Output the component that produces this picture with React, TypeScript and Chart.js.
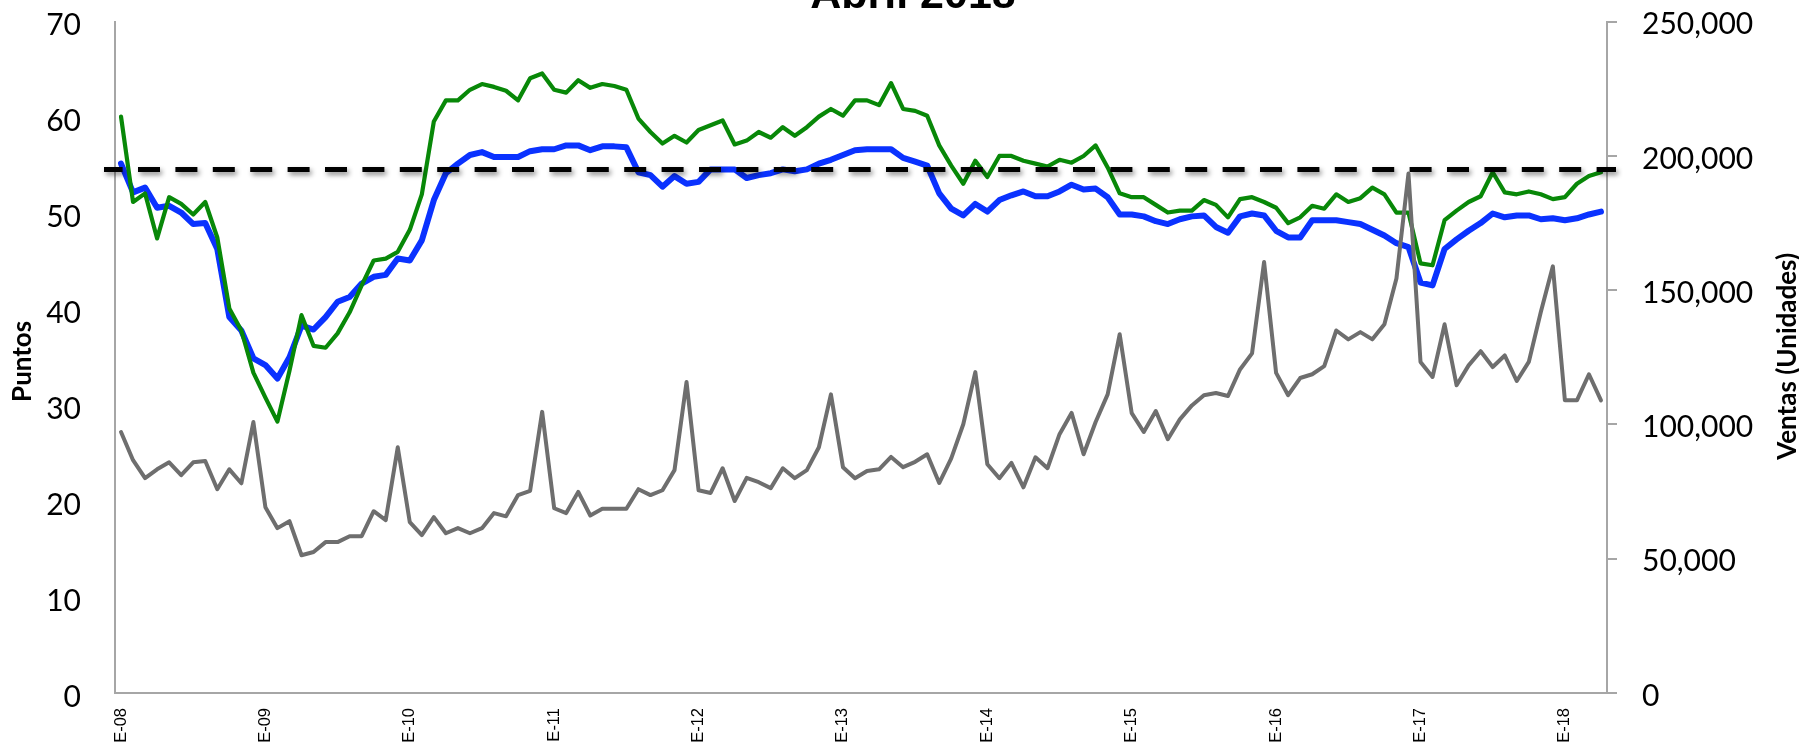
import React, { useEffect, useRef } from 'react';
import { Chart, registerables } from 'chart.js';

Chart.register(...registerables);

// ---------- data ----------
const MONTH_LETTERS = ['E', 'F', 'M', 'A', 'M', 'J', 'J', 'A', 'S', 'O', 'N', 'D'];
const YEARS = ['08', '09', '10', '11', '12', '13', '14', '15', '16', '17', '18'];
const N_POINTS = 124; // E-08 .. A-18
const categories: string[] = [];
for (const y of YEARS) for (const m of MONTH_LETTERS) categories.push(`${m}-${y}`);
categories.length = N_POINTS;

const TITLE = 'Abril 2018';
const LEFT_TITLE = 'Puntos';
const RIGHT_TITLE = 'Ventas (Unidades)';

const THRESHOLD = 54.6;

const LEFT_TICKS = [0, 10, 20, 30, 40, 50, 60, 70];
const RIGHT_TICKS = [0, 50000, 100000, 150000, 200000, 250000];

const blueSeries = [
  55.2, 52.2, 52.7, 50.6, 50.8, 50.1, 48.9, 49.0, 46.3, 39.2,
  37.8, 34.9, 34.2, 32.8, 35.0, 38.3, 37.9, 39.2, 40.8, 41.3,
  42.7, 43.4, 43.6, 45.3, 45.1, 47.2, 51.4, 54.2, 55.2, 56.1,
  56.4, 55.9, 55.9, 55.9, 56.5, 56.7, 56.7, 57.1, 57.1, 56.6,
  57.0, 57.0, 56.9, 54.3, 54.0, 52.8, 53.9, 53.1, 53.3, 54.6,
  54.6, 54.6, 53.7, 54.0, 54.2, 54.6, 54.4, 54.6, 55.2, 55.6,
  56.1, 56.6, 56.7, 56.7, 56.7, 55.8, 55.4, 55.0, 52.1, 50.5,
  49.8, 51.0, 50.2, 51.4, 51.9, 52.3, 51.8, 51.8, 52.3, 53.0,
  52.5, 52.6, 51.7, 49.9, 49.9, 49.7, 49.2, 48.9, 49.4, 49.7,
  49.8, 48.6, 48.0, 49.7, 50.0, 49.8, 48.2, 47.5, 47.5, 49.3,
  49.3, 49.3, 49.1, 48.9, 48.3, 47.7, 46.9, 46.5, 42.8, 42.5,
  46.3, 47.3, 48.2, 49.0, 50.0, 49.6, 49.8, 49.8, 49.4, 49.5,
  49.3, 49.5, 49.9, 50.2,
];

const greenSeries = [
  60.1, 51.2, 52.1, 47.4, 51.7, 51.0, 49.9, 51.2, 47.5, 40.1,
  37.8, 33.4, 30.8, 28.3, 33.6, 39.4, 36.2, 36.0, 37.5, 39.7,
  42.5, 45.1, 45.3, 46.0, 48.3, 52.0, 59.6, 61.8, 61.8, 62.9,
  63.5, 63.2, 62.8, 61.8, 64.1, 64.6, 62.9, 62.6, 63.9, 63.1,
  63.5, 63.3, 62.9, 59.9, 58.5, 57.3, 58.1, 57.4, 58.7, 59.2,
  59.7, 57.2, 57.6, 58.5, 57.9, 59.0, 58.1, 59.0, 60.1, 60.9,
  60.2, 61.8, 61.8, 61.3, 63.6, 60.9, 60.7, 60.2, 57.1, 55.0,
  53.1, 55.5, 53.8, 56.0, 56.0, 55.5, 55.2, 54.9, 55.6, 55.3,
  56.0, 57.1, 54.8, 52.1, 51.7, 51.7, 50.9, 50.1, 50.3, 50.3,
  51.4, 50.9, 49.6, 51.5, 51.7, 51.2, 50.6, 49.0, 49.6, 50.8,
  50.5, 52.0, 51.2, 51.6, 52.7, 52.0, 50.1, 50.1, 44.8, 44.6,
  49.3, 50.3, 51.2, 51.8, 54.3, 52.2, 52.0, 52.3, 52.0, 51.5,
  51.7, 53.1, 53.9, 54.3,
];

const salesSeries = [
  97200, 86700, 80000, 83300, 85900, 81100, 85900, 86400, 75900, 83300,
  78100, 100900, 69200, 61400, 64000, 51300, 52500, 56200, 56200, 58400,
  58400, 67700, 64400, 91500, 63600, 58800, 65500, 59500, 61400, 59500,
  61400, 67000, 65800, 73700, 75300, 104700, 68800, 67000, 74900, 66100,
  68600, 68600, 68600, 75900, 73700, 75500, 83000, 115800, 75500, 74500,
  83700, 71500, 80100, 78500, 76300, 83700, 80000, 83000, 91500, 111200,
  84100, 80000, 82700, 83300, 87900, 84100, 86100, 88900, 78200, 87400,
  100100, 119500, 85200, 80000, 85700, 76600, 87800, 83700, 96400, 104300,
  88900, 100900, 111200, 133600, 104200, 97200, 105000, 94500, 101900, 107100,
  110900, 111700, 110600, 120500, 126500, 160500, 119200, 110900, 117300, 118700,
  121700, 135000, 131700, 134400, 131700, 137300, 154400, 193500, 123300, 117700,
  137300, 114600, 122000, 127300, 121400, 125700, 116200, 123300, 141900, 158900,
  109000, 109000, 118700, 109000,
];

// ---------- styles ----------
const AXIS_GRAY = '#a6a6a6';
const TICK_FONT = { family: 'Lato', size: 30 };
const X_FONT = { family: 'Liberation Sans', size: 16.5 };

const fmt = (v: number) => Number(v).toLocaleString('en-US');

const overlayPlugin = {
  id: 'overlay',
  afterDatasetDraw(chart: any, args: any) {
    if (args.index !== 1) return;
    const ctx = chart.ctx;
    const y = chart.scales.y.getPixelForValue(THRESHOLD);
    const { left, right } = chart.chartArea;
    ctx.save();
    ctx.beginPath();
    ctx.setLineDash([22, 15.4]);
    ctx.lineDashOffset = 3.4;
    ctx.lineCap = 'butt';
    ctx.strokeStyle = '#000';
    ctx.lineWidth = 5;
    ctx.shadowColor = 'rgba(0,0,0,0.45)';
    ctx.shadowBlur = 5;
    ctx.shadowOffsetX = 2;
    ctx.shadowOffsetY = 3;
    ctx.moveTo(left - 11, y);
    ctx.lineTo(right + 9, y);
    ctx.stroke();
    ctx.restore();
  },
  afterDraw(chart: any) {
    const ctx = chart.ctx;
    const { top, bottom } = chart.chartArea;
    const midY = (top + bottom) / 2;
    ctx.save();
    ctx.fillStyle = '#000';
    ctx.font = 'bold 43px "Liberation Sans"';
    ctx.textAlign = 'center';
    ctx.textBaseline = 'alphabetic';
    ctx.fillText(TITLE, 913, 7.5);

    ctx.font = 'bold 26px Lato';
    ctx.textBaseline = 'middle';
    ctx.save();
    ctx.translate(23, midY + 4);
    ctx.rotate(-Math.PI / 2);
    ctx.fillText(LEFT_TITLE, 0, 0);
    ctx.restore();

    ctx.save();
    ctx.translate(1788, midY - 1);
    ctx.rotate(-Math.PI / 2);
    ctx.fillText(RIGHT_TITLE, 0, 0);
    ctx.restore();
    ctx.restore();
  },
};

export default function App() {
  const ref = useRef<HTMLCanvasElement | null>(null);

  useEffect(() => {
    if (!ref.current) return;
    const chart = new Chart(ref.current, {
      type: 'line',
      data: {
        labels: categories,
        datasets: [
          {
            label: 'Ventas',
            data: salesSeries,
            yAxisID: 'y2',
            borderColor: '#6e6e6e',
            borderWidth: 4,
            pointRadius: 0,
            tension: 0,
            borderJoinStyle: 'round',
            borderCapStyle: 'round',
          },
          {
            label: 'Verde',
            data: greenSeries,
            yAxisID: 'y',
            borderColor: '#088808',
            borderWidth: 4.2,
            pointRadius: 0,
            tension: 0,
            borderJoinStyle: 'round',
            borderCapStyle: 'round',
          },
          {
            label: 'Azul',
            data: blueSeries,
            yAxisID: 'y',
            borderColor: '#0a32ff',
            borderWidth: 6,
            pointRadius: 0,
            tension: 0,
            borderJoinStyle: 'round',
            borderCapStyle: 'round',
          },
        ],
      },
      options: {
        responsive: false,
        animation: false,
        devicePixelRatio: 1,
        layout: { padding: { top: 21.7, left: 0, right: 0, bottom: 0 } },
        plugins: { legend: { display: false }, tooltip: { enabled: false }, title: { display: false } },
        scales: {
          x: {
            type: 'category',
            offset: true,
            grid: { display: false, drawTicks: false },
            border: { display: true, color: AXIS_GRAY, width: 2 },
            ticks: {
              autoSkip: false,
              minRotation: 90,
              maxRotation: 90,
              padding: 15,
              color: '#000',
              font: X_FONT,
              callback: (_v: any, i: number) => (i % 12 === 0 ? categories[i] : ''),
            },
            afterFit: (s: any) => { s.height = 51; s.paddingLeft = 0; s.paddingRight = 0; },
          },
          y: {
            position: 'left',
            min: 0,
            max: 70,
            afterBuildTicks: (s: any) => { s.ticks = LEFT_TICKS.map((v) => ({ value: v })); },
            grid: { display: false, drawTicks: false },
            border: { display: true, color: AXIS_GRAY, width: 2 },
            ticks: { padding: 34, labelOffset: 4, color: '#000', font: TICK_FONT },
            afterFit: (s: any) => { s.width = 115; s.paddingTop = 0; s.paddingBottom = 0; },
          },
          y2: {
            position: 'right',
            min: 0,
            max: 250000,
            afterBuildTicks: (s: any) => { s.ticks = RIGHT_TICKS.map((v) => ({ value: v })); },
            grid: { display: true, drawOnChartArea: false, drawTicks: true, tickLength: 10, color: AXIS_GRAY, lineWidth: 2 },
            border: { display: true, color: AXIS_GRAY, width: 2 },
            ticks: { padding: 25, labelOffset: 3, color: '#000', font: TICK_FONT, callback: (v: any) => fmt(v) },
            afterFit: (s: any) => { s.width = 192; s.paddingTop = 0; s.paddingBottom = 0; },
          },
        },
      },
      plugins: [overlayPlugin],
    } as any);
    return () => chart.destroy();
  }, []);

  return (
    <canvas
      ref={ref}
      width={1799}
      height={744}
      style={{ position: 'absolute', left: 0, top: 0, width: 1799, height: 744, display: 'block' }}
    />
  );
}
